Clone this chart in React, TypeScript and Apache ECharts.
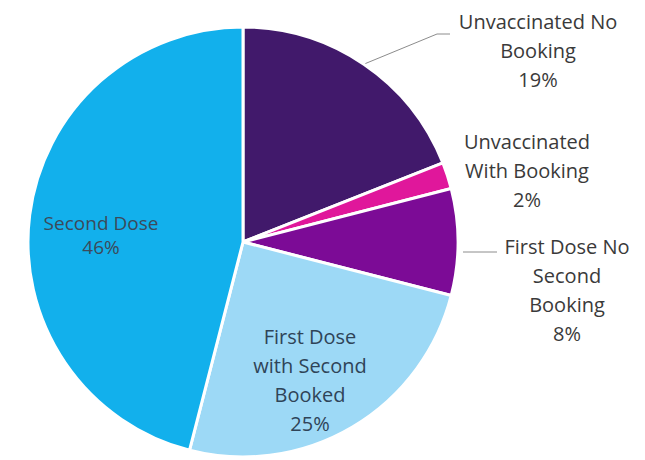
import React, { useEffect, useRef } from "react";
import * as echarts from "echarts";

const categories = [
  "Unvaccinated No\nBooking",
  "Unvaccinated\nWith Booking",
  "First Dose No\nSecond\nBooking",
  "First Dose\nwith Second\nBooked",
  "Second Dose",
];
const values = [19, 2, 8, 25, 46];
const colors = ["#41196b", "#e0179b", "#7c0b96", "#9dd9f6", "#12b0ec"];

// label block centres (px)
const labelPos: [number, number][] = [
  [538, 50],
  [527, 170],
  [567, 290],
  [310, 380],
  [101, 235],
];

export default function App() {
  const ref = useRef<HTMLDivElement>(null);
  useEffect(() => {
    if (!ref.current) return;
    const chart = echarts.init(ref.current, null, { renderer: "svg" });
    chart.setOption({
      animation: false,
      backgroundColor: "#ffffff",
      series: [
        {
          type: "pie",
          center: [243, 242],
          radius: [0, 215],
          startAngle: 90,
          clockwise: true,
          avoidLabelOverlap: false,
          itemStyle: { borderColor: "#ffffff", borderWidth: 3 },
          label: {
            show: true,
            formatter: "{b}\n{d}%",
            fontFamily: "Open Sans",
            fontSize: 20,
            lineHeight: 29,
            color: "#3a3a3a",
            align: "center",
          },
          labelLine: {
            show: true,
            lineStyle: { color: "#8c8c8c", width: 1 },
          },
          labelLayout: (p: any) => {
            const i = p.dataIndex;
            const [x, y] = labelPos[i];
            const out: any = { x, y, align: "center", verticalAlign: "middle" };
            const pts = p.labelLinePoints;
            if (pts && pts.length) {
              const s = pts[0];
              if (i === 0) {
                out.labelLinePoints = [s, [437, 34], [450, 34]];
              } else if (i === 2) {
                out.labelLinePoints = [[s[0] + 5, 252], [480, 252], [497, 252]];
              }
            }
            return out;
          },
          data: categories.map((name, i) => ({
            name,
            value: values[i],
            itemStyle: { color: colors[i] },
            label:
              i === 4
                ? { fontSize: 19, lineHeight: 24, color: "#3c4a5a" }
                : i === 3
                ? { color: "#2f4458" }
                : {},
            labelLine: { show: i === 0 || i === 2 },
          })),
        },
      ],
    });
    return () => chart.dispose();
  }, []);
  return (
    <div
      ref={ref}
      style={{ position: "fixed", left: 0, top: 0, width: 645, height: 460 }}
    />
  );
}
